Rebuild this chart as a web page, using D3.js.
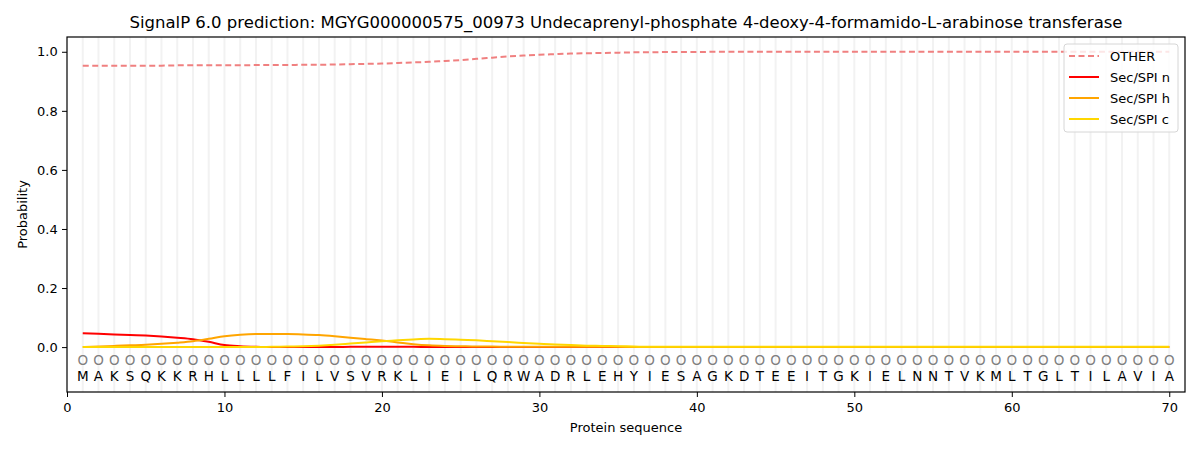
<!DOCTYPE html>
<html>
<head>
<meta charset="utf-8">
<script src="https://cdn.jsdelivr.net/npm/d3@7"></script>
<style>
  body { margin: 0; background: #fff; }
  text { font-family: "DejaVu Sans", sans-serif; }
</style>
</head>
<body>
<svg id="chart" width="1200" height="450"></svg>
<script>
// SignalP 6.0 per-residue probabilities
const sequence = "MAKSQKKRHLLLLFILVSVRKLIEILQRWADRLEHYIESAGKDTEEITGKIELNNTVKMLTGLTILAVIA".split("");

const other = [
  0.953,0.953,0.953,0.953,0.953,0.953,0.954,0.954,0.954,0.954,
  0.954,0.955,0.955,0.955,0.956,0.956,0.957,0.958,0.959,0.960,
  0.962,0.964,0.966,0.969,0.972,0.976,0.980,0.984,0.987,0.990,
  0.992,0.994,0.995,0.996,0.997,0.998,0.998,0.999,0.999,0.999,
  1.000,1.000,1.000,1.000,1.000,1.000,1.000,1.000,1.000,1.000,
  1.000,1.000,1.000,1.000,1.000,1.000,1.000,1.000,1.000,1.000,
  1.000,1.000,1.000,1.000,1.000,1.000,1.000,1.000,1.000,1.000
];
const secN = [
  0.047,0.045,0.043,0.041,0.039,0.036,0.032,0.027,0.018,0.007,
  0.003,0.001,0.000,0.000,0.000,0.000,0.000,0.001,0.001,0.001,
  0.001,0.001,0.000,0.000,0.000,0.000,0.000,0.000,0.000,0.000,
  0.000,0.000,0.000,0.000,0.000,0.000,0.000,0.000,0.000,0.000,
  0.000,0.000,0.000,0.000,0.000,0.000,0.000,0.000,0.000,0.000,
  0.000,0.000,0.000,0.000,0.000,0.000,0.000,0.000,0.000,0.000,
  0.000,0.000,0.000,0.000,0.000,0.000,0.000,0.000,0.000,0.000
];
const secH = [
  0.000,0.002,0.004,0.006,0.008,0.011,0.015,0.020,0.028,0.037,
  0.042,0.044,0.044,0.044,0.043,0.041,0.037,0.032,0.027,0.022,
  0.016,0.010,0.006,0.004,0.003,0.002,0.002,0.001,0.001,0.001,
  0.001,0.001,0.001,0.001,0.001,0.000,0.000,0.000,0.000,0.000,
  0.000,0.000,0.000,0.000,0.000,0.000,0.000,0.000,0.000,0.000,
  0.000,0.000,0.000,0.000,0.000,0.000,0.000,0.000,0.000,0.000,
  0.000,0.000,0.000,0.000,0.000,0.000,0.000,0.000,0.000,0.000
];
const secC = [
  0.000,0.000,0.000,0.000,0.000,0.000,0.000,0.000,0.000,0.000,
  0.000,0.000,0.001,0.002,0.003,0.005,0.008,0.012,0.016,0.020,
  0.023,0.026,0.028,0.027,0.025,0.023,0.020,0.017,0.014,0.011,
  0.009,0.007,0.005,0.004,0.003,0.002,0.001,0.001,0.001,0.001,
  0.001,0.001,0.001,0.001,0.001,0.001,0.001,0.001,0.001,0.001,
  0.001,0.001,0.001,0.001,0.001,0.001,0.001,0.001,0.001,0.001,
  0.001,0.001,0.001,0.001,0.001,0.001,0.001,0.001,0.001,0.001
];

const seriesNames = ["OTHER", "Sec/SPI n", "Sec/SPI h", "Sec/SPI c"];
const seriesData = [other, secN, secH, secC];
const seriesColors = ["#f08080", "#ff0000", "#ffa500", "#ffd700"];
const xTicks = [0, 10, 20, 30, 40, 50, 60, 70];
const yTicks = [0.0, 0.2, 0.4, 0.6, 0.8, 1.0];

const svg = d3.select("#chart");
const M = { left: 67, right: 15, top: 37, bottom: 58 };
const W = 1200, H = 450;

const x = d3.scaleLinear().domain([0, 71]).range([M.left, W - M.right]);
const y = d3.scaleLinear().domain([-0.152, 1.05]).range([H - M.bottom, M.top]);

// residue grid lines
svg.append("g").selectAll("line")
  .data(sequence).join("line")
  .attr("x1", (d, i) => x(i + 1)).attr("x2", (d, i) => x(i + 1))
  .attr("y1", M.top).attr("y2", H - M.bottom)
  .attr("stroke", "#f2f2f2").attr("stroke-width", 2);

// lines
const line = d3.line()
  .x((d, i) => x(i + 1))
  .y(d => y(d))
  .curve(d3.curveMonotoneX);

seriesData.forEach((s, k) => {
  svg.append("path")
    .datum(s)
    .attr("fill", "none")
    .attr("stroke", seriesColors[k])
    .attr("stroke-width", 2)
    .attr("stroke-dasharray", k === 0 ? "6,3.5" : null)
    .attr("d", line);
});

// sequence markers and letters
svg.append("g").selectAll("text")
  .data(sequence).join("text")
  .attr("x", (d, i) => x(i + 1)).attr("y", y(-0.045))
  .attr("text-anchor", "middle").attr("dominant-baseline", "central")
  .attr("font-size", "13.5px").attr("fill", "#808080")
  .text("O");

svg.append("g").selectAll("text")
  .data(sequence).join("text")
  .attr("x", (d, i) => x(i + 1)).attr("y", y(-0.097))
  .attr("text-anchor", "middle").attr("dominant-baseline", "central")
  .attr("font-size", "13.5px").attr("fill", "#000")
  .text(d => d);

// axes
const xAxis = svg.append("g")
  .attr("transform", `translate(0,${H - M.bottom})`)
  .call(d3.axisBottom(x).tickValues(xTicks).tickFormat(d3.format("d")).tickSizeOuter(0).tickSize(5));
const yAxis = svg.append("g")
  .attr("transform", `translate(${M.left},0)`)
  .call(d3.axisLeft(y).tickValues(yTicks).tickFormat(d3.format(".1f")).tickSizeOuter(0).tickSize(5));
[xAxis, yAxis].forEach(a => {
  a.selectAll("text").attr("font-size", "13px").attr("font-family", "DejaVu Sans, sans-serif").attr("fill", "#000");
  a.selectAll("line").attr("stroke", "#000");
  a.select(".domain").remove();
});
xAxis.selectAll("text").attr("dy", "0.95em");
yAxis.selectAll("text").attr("dx", "-0.1em");

// frame
svg.append("rect")
  .attr("x", M.left).attr("y", M.top)
  .attr("width", W - M.left - M.right).attr("height", H - M.top - M.bottom)
  .attr("fill", "none").attr("stroke", "#000").attr("stroke-width", 1.2);

// labels
svg.append("text")
  .attr("x", (M.left + W - M.right) / 2).attr("y", 28)
  .attr("text-anchor", "middle").attr("font-size", "16.5px")
  .text("SignalP 6.0 prediction: MGYG000000575_00973 Undecaprenyl-phosphate 4-deoxy-4-formamido-L-arabinose transferase");

svg.append("text")
  .attr("x", (M.left + W - M.right) / 2).attr("y", 432)
  .attr("text-anchor", "middle").attr("font-size", "13px")
  .text("Protein sequence");

svg.append("text")
  .attr("transform", `translate(27,${(M.top + H - M.bottom) / 2}) rotate(-90)`)
  .attr("text-anchor", "middle").attr("font-size", "13px")
  .text("Probability");

// legend
const legend = svg.append("g").attr("transform", "translate(1064,44)");
legend.append("rect")
  .attr("width", 114).attr("height", 88).attr("rx", 3)
  .attr("fill", "rgba(255,255,255,0.8)").attr("stroke", "#d6d6d6");
seriesNames.forEach((name, i) => {
  const ly = 12 + i * 21;
  legend.append("line")
    .attr("x1", 5).attr("x2", 35).attr("y1", ly).attr("y2", ly)
    .attr("stroke", seriesColors[i]).attr("stroke-width", 2)
    .attr("stroke-dasharray", i === 0 ? "6,3.5" : null);
  legend.append("text")
    .attr("x", 46).attr("y", ly).attr("dominant-baseline", "central")
    .attr("font-size", "13px").text(name);
});
</script>
</body>
</html>
